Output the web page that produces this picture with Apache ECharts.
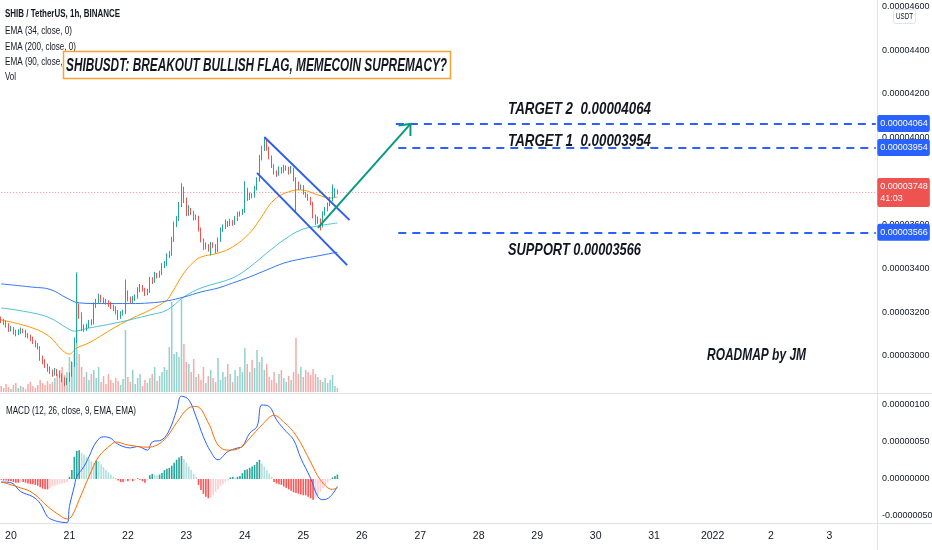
<!DOCTYPE html>
<html>
<head>
<meta charset="utf-8">
<script src="https://cdn.jsdelivr.net/npm/echarts@6.0.0/dist/echarts.min.js"></script>
<style>
html,body{margin:0;padding:0;background:#fff}
#main{width:932px;height:550px}
</style>
</head>
<body>
<div id="main"></div>
<script>
// prices are in units of 1e-8 USDT (3748 = 0.00003748), one candle per hour from Dec 19 20:00
var opens = [
 3165,3160,3150,3140,3120,3125,3108,3100,3110,3118,
 3112,3095,3090,3078,3065,3050,3040,2990,2975,2955,
 2940,2930,2918,2930,2920,2912,2895,2875,2890,2915,
 2960,3070,3215,3190,3130,3125,3135,3155,3150,3230,
 3245,3270,3255,3250,3245,3235,3225,3215,3200,3180,
 3195,3200,3290,3260,3250,3260,3270,3300,3315,3305,
 3285,3295,3350,3340,3370,3365,3375,3410,3420,3455,
 3465,3530,3600,3625,3690,3770,3715,3650,3665,3655,
 3630,3635,3580,3530,3495,3505,3490,3510,3505,3480,
 3530,3575,3590,3610,3600,3615,3605,3625,3645,3650,
 3660,3760,3720,3735,3730,3765,3805,3905,3945,3980,
 3950,3910,3870,3840,3830,3855,3845,3855,3860,3840,
 3855,3810,3790,3770,3775,3745,3735,3720,3700,3640,
 3615,3625,3595,3650,3670,3690,3715,3730,3755];
var closes = [
 3160,3150,3140,3120,3125,3108,3100,3110,3118,3112,
 3095,3090,3078,3065,3050,3040,2990,2975,2955,2940,
 2930,2918,2930,2920,2912,2895,2875,2890,2915,2960,
 3070,3215,3190,3130,3125,3135,3155,3150,3230,3245,
 3270,3255,3250,3245,3235,3225,3215,3200,3180,3195,
 3200,3290,3260,3250,3260,3270,3300,3315,3305,3285,
 3295,3350,3340,3370,3365,3375,3410,3420,3455,3465,
 3530,3600,3625,3690,3770,3715,3650,3665,3655,3630,
 3635,3580,3530,3495,3505,3490,3510,3505,3480,3530,
 3575,3590,3610,3600,3615,3605,3625,3645,3650,3660,
 3760,3720,3735,3730,3765,3805,3905,3945,3980,3950,
 3910,3870,3840,3830,3855,3845,3855,3860,3840,3855,
 3810,3790,3770,3775,3745,3735,3720,3700,3640,3615,
 3625,3595,3650,3670,3690,3715,3730,3755,3748];
var highs = [
 3180,3170,3162,3150,3138,3132,3120,3122,3130,3125,
 3120,3105,3098,3088,3072,3060,3045,3002,2985,2965,
 2952,2938,2945,2940,2932,2920,2902,2900,2925,2975,
 3085,3380,3240,3200,3145,3148,3165,3168,3245,3262,
 3285,3280,3268,3262,3255,3248,3235,3228,3210,3205,
 3212,3350,3300,3272,3275,3282,3315,3330,3325,3312,
 3308,3362,3360,3385,3380,3390,3425,3435,3470,3480,
 3545,3615,3640,3705,3790,3775,3725,3690,3678,3665,
 3648,3642,3588,3538,3520,3512,3522,3520,3512,3542,
 3588,3602,3625,3618,3628,3622,3640,3660,3662,3672,
 3800,3770,3748,3745,3778,3818,3920,3962,4000,3990,
 3958,3918,3878,3850,3868,3865,3875,3872,3866,3870,
 3862,3818,3798,3785,3782,3752,3742,3728,3706,3648,
 3638,3630,3662,3682,3702,3728,3785,3768,3762];
var lows = [
 3150,3142,3130,3110,3112,3098,3090,3095,3102,3104,
 3085,3080,3068,3055,3040,3030,2978,2962,2945,2928,
 2918,2905,2910,2908,2900,2880,2862,2868,2882,2905,
 2950,3060,3170,3115,3110,3115,3128,3140,3145,3220,
 3238,3245,3240,3235,3225,3215,3205,3190,3165,3170,
 3185,3192,3250,3240,3242,3252,3262,3292,3295,3275,
 3278,3288,3330,3335,3355,3358,3370,3402,3412,3448,
 3458,3522,3590,3618,3682,3700,3640,3642,3645,3620,
 3622,3570,3520,3485,3488,3478,3460,3495,3470,3475,
 3522,3568,3582,3590,3595,3596,3600,3618,3638,3645,
 3655,3710,3714,3722,3725,3758,3798,3895,3938,3940,
 3900,3860,3830,3820,3825,3835,3838,3848,3830,3835,
 3800,3660,3760,3762,3738,3725,3710,3690,3630,3600,
 3605,3575,3588,3642,3662,3685,3708,3725,3740];
// relative volume per candle
var volumes = [
 6,4,8,5,3,7,9,4,6,5,
 3,8,10,6,4,7,12,9,7,11,
 8,10,14,18,22,25,17,20,35,30,
 38,120,38,25,15,20,12,18,22,14,
 25,10,16,8,18,12,9,14,11,7,
 13,62,15,10,22,8,14,18,6,12,
 9,14,18,25,11,16,20,25,22,45,
 90,38,40,35,92,48,30,28,20,33,
 15,18,12,25,9,16,22,14,10,34,
 12,20,15,28,18,10,22,16,25,20,
 44,28,20,32,24,42,30,35,22,28,
 15,12,20,9,18,22,14,10,16,12,
 20,54,18,25,15,22,20,17,23,18,
 15,12,10,14,9,12,17,6,4];
// EMA curves: [candle index, price]
var ema34Pts = [[0,3165],[13,3128],[20,3087],[25,3027],[28,3009],[31,3037],[36,3060],[47,3133],[54,3174],[61,3210],[68,3256],[70,3288],[75,3380],[79,3430],[82,3453],[89,3471],[95,3499],[102,3563],[106,3622],[112,3714],[119,3755],[123,3760],[130,3737],[135,3723],[138,3728]];
var ema90Pts = [[0,3220],[13,3197],[20,3174],[27,3128],[30,3114],[36,3128],[47,3151],[61,3188],[68,3210],[75,3270],[82,3311],[95,3357],[102,3407],[109,3471],[116,3531],[123,3577],[130,3595],[138,3609]];
var ema200Pts = [[0,3330],[13,3315],[20,3305],[27,3265],[32,3243],[41,3240],[53,3240],[61,3243],[68,3252],[75,3270],[82,3293],[89,3311],[95,3334],[102,3362],[109,3394],[116,3425],[123,3444],[130,3458],[136,3471],[138,3475]];
// MACD (units of 1e-8)
var macdPts = [[0,-4],[4,-5],[8,-17],[13,-24],[16,-33],[19,-51],[21,-55],[24,-58],[27,-59],[28,-37],[30,-10],[31,3],[34,17],[36,30],[39,50],[42,57],[45,55],[47,49],[50,44],[53,42],[56,44],[60,39],[62,50],[66,53],[69,66],[72,93],[74,112],[77,107],[80,84],[83,57],[86,37],[89,26],[93,37],[97,42],[99,44],[102,62],[105,71],[107,100],[110,98],[113,80],[117,64],[120,53],[123,28],[127,1],[130,-24],[132,-28],[135,-24],[138,-10]];
var signalPts = [[0,-4],[8,-12],[13,-19],[19,-37],[24,-49],[27,-54],[29,-50],[32,-28],[36,3],[40,30],[45,46],[47,50],[52,46],[60,43],[64,46],[68,57],[72,76],[77,96],[80,98],[85,76],[89,46],[93,39],[98,42],[102,55],[107,73],[112,86],[116,77],[121,59],[127,23],[131,-1],[136,-14],[138,-12]];
var histVals = [
 -1,-2,-2,-3,-3,-4,-5,-5,-4,-4,
 -5,-6,-7,-7,-8,-9,-11,-13,-14,-14,
 -12,-10,-9,-8,-7,-6,-5,-4,3,12,
 30,38,39,35,33,30,27,24,22,25,
 24,20,16,12,9,6,3,1,-2,-4,
 -4,-3,-3,-2,-3,-2,1,-1,-3,-5,
 -2,5,7,6,5,6,8,12,14,15,
 18,22,26,29,31,27,22,17,12,7,
 3,-8,-15,-20,-24,-26,-25,-22,-18,-14,
 -10,-7,-4,-2,2,3,2,3,4,8,
 12,13,15,17,19,23,26,21,17,12,
 7,3,-4,-6,-7,-8,-10,-12,-14,-16,
 -18,-19,-20,-21,-22,-22,-24,-26,-28,-26,
 -22,-17,-12,-8,-5,-2,2,4,6];
var dayLabels = ['20','21','22','23','24','25','26','27','28','29','30','31','2022','2','3'];
var target2 = 4064, target1 = 3954, support = 3566, lastPrice = 3748;
var countdown = '41:03';
// drawings: [candle index, price]
var flagUpper = [[108,4002],[143,3622]];
var flagLower = [[105,3838],[142,3416]];
var arrowLine = [[130,3586],[168,4062]];

var hours = [];
for (var h = -4; h < 356; h++) hours.push(String(h));

var AXF = "'Liberation Sans',Arial,sans-serif";
var TXT = "'Liberation Sans',Arial,sans-serif";
function fmtPrice(v){ return (v * 1e-8).toFixed(8); }

var candles = closes.map(function(c, i){ return [opens[i], c, lows[i], highs[i]]; });

function tag(bg, text){
  return {show:true, position:'end', distance:1.5, formatter:text, color:'#fff', backgroundColor:bg,
    padding:[3,2,2,3], borderRadius:2, fontSize:9, fontFamily:AXF, lineHeight:12, align:'left'};
}
var dashStyle = {color:'#2962ff', type:[8,6], width:2};
var flagStyle = {color:'#2f5ee8', type:'solid', width:2};

var chart = echarts.init(document.getElementById('main'));
var option = {
  animation:false,
  backgroundColor:'#fff',
  grid:[
    {left:0, right:55, top:6.4, height:393.3, outerBoundsMode:'none'},
    {left:0, right:55, top:368, height:185, outerBoundsMode:'none'},
    {left:0, right:55, top:272, height:120, outerBoundsMode:'none'}
  ],
  xAxis:[
    {type:'category', gridIndex:0, data:hours, show:false},
    {type:'category', gridIndex:1, data:hours, offset:-31,
      axisLine:{show:false}, axisTick:{show:false}, splitLine:{show:false},
      axisLabel:{interval:function(i, v){ return (+v) % 24 === 0; },
        formatter:function(v){ return dayLabels[(+v) / 24]; },
        color:'#131722', fontSize:10.5, fontFamily:AXF, margin:9}},
    {type:'category', gridIndex:2, data:hours, show:false}
  ],
  yAxis:[
    {type:'value', gridIndex:0, position:'right', min:2800, max:4600, interval:200,
      splitLine:{show:false}, axisLine:{show:false}, axisTick:{show:false},
      axisLabel:{formatter:fmtPrice, showMinLabel:false, color:'#131722', fontSize:9, fontFamily:AXF, margin:5}},
    {type:'value', gridIndex:1, position:'right', min:-100, max:150, interval:50,
      splitLine:{show:false}, axisLine:{show:false}, axisTick:{show:false},
      axisLabel:{formatter:fmtPrice, showMinLabel:false, showMaxLabel:false, color:'#131722', fontSize:9, fontFamily:AXF, margin:5}},
    {type:'value', gridIndex:2, min:0, max:120, show:false}
  ],
  series:[
    {type:'candlestick', xAxisIndex:0, yAxisIndex:0, data:candles, barWidth:1.3, z:4,
      itemStyle:{color:'#26a69a', color0:'#ef5350', borderColor:'#26a69a', borderColor0:'#ef5350', borderWidth:1},
      markLine:{silent:true, symbol:['none','none'], animation:false, z:6,
        data:[
          [{coord:[0,lastPrice], lineStyle:{color:'rgba(242,54,69,0.55)', type:[1,2], width:1},
            label:tag('#ef5350', fmtPrice(lastPrice) + '\n' + countdown)}, {coord:[359,lastPrice]}],
          [{coord:[162,target2], lineStyle:dashStyle, label:tag('#2962ff', fmtPrice(target2))}, {coord:[359,target2]}],
          [{coord:[163,target1], lineStyle:dashStyle, label:tag('#2962ff', fmtPrice(target1))}, {coord:[359,target1]}],
          [{coord:[163,support], lineStyle:dashStyle, label:tag('#2962ff', fmtPrice(support))}, {coord:[359,support]}],
          [{coord:flagUpper[0], lineStyle:flagStyle, label:{show:false}}, {coord:flagUpper[1]}],
          [{coord:flagLower[0], lineStyle:flagStyle, label:{show:false}}, {coord:flagLower[1]}],
          [{coord:arrowLine[0], lineStyle:{color:'#089981', type:'solid', width:2}, label:{show:false}}, {coord:arrowLine[1]}]
        ]}},
    {type:'line', xAxisIndex:0, yAxisIndex:0, data:ema34Pts, smooth:0.4, showSymbol:false, z:3,
      lineStyle:{color:'#ff9800', width:1}},
    {type:'line', xAxisIndex:0, yAxisIndex:0, data:ema90Pts, smooth:0.4, showSymbol:false, z:3,
      lineStyle:{color:'#4cc2d6', width:1}},
    {type:'line', xAxisIndex:0, yAxisIndex:0, data:ema200Pts, smooth:0.4, showSymbol:false, z:3,
      lineStyle:{color:'#3179f5', width:1}},
    {type:'bar', xAxisIndex:2, yAxisIndex:2, data:volumes, barWidth:1.5, z:1,
      itemStyle:{color:function(p){ return closes[p.dataIndex] >= opens[p.dataIndex] ? 'rgba(38,166,154,0.5)' : 'rgba(239,83,80,0.5)'; }}},
    {type:'bar', xAxisIndex:1, yAxisIndex:1, data:histVals, barWidth:1.6, z:2,
      itemStyle:{color:function(p){
        var v = histVals[p.dataIndex], prev = p.dataIndex > 0 ? histVals[p.dataIndex - 1] : v;
        if (v >= 0) return v >= prev ? '#26a69a' : '#b2dfdb';
        return v <= prev ? '#ff5252' : '#ffcdd2';
      }}},
    {type:'line', xAxisIndex:1, yAxisIndex:1, data:macdPts, smooth:0.4, showSymbol:false, z:3,
      lineStyle:{color:'#2962ff', width:1}},
    {type:'line', xAxisIndex:1, yAxisIndex:1, data:signalPts, smooth:0.4, showSymbol:false, z:3,
      lineStyle:{color:'#ff6d00', width:1}}
  ]
};
chart.setOption(option);

// text helpers: squeeze text to the measured width of the reference
var mctx = document.createElement('canvas').getContext('2d');
function fitText(text, x, y, width, size, italic, bold, z){
  var font = (italic ? 'italic ' : '') + (bold ? 'bold ' : '') + size + 'px ' + TXT;
  mctx.font = font;
  var w = mctx.measureText(text).width;
  return {type:'text', x:x, y:y, scaleX:width / w, z:z || 20,
    style:{text:text, fill:'#131722', fontSize:size, fontFamily:TXT,
      fontStyle:italic ? 'italic' : 'normal', fontWeight:bold ? 'bold' : 'normal',
      align:'left', verticalAlign:'middle'}};
}
function px(pt){ return chart.convertToPixel({gridIndex:0}, pt); }

var a0 = px(arrowLine[0]), a1 = px(arrowLine[1]);
var ang = Math.atan2(a1[1] - a0[1], a1[0] - a0[0]);
var headLen = 12, spread = 0.72;
var head = [
  [a1[0] - headLen * Math.cos(ang - spread), a1[1] - headLen * Math.sin(ang - spread)],
  [a1[0], a1[1]],
  [a1[0] - headLen * Math.cos(ang + spread), a1[1] - headLen * Math.sin(ang + spread)]
];
var yT2 = px([0,target2])[1], yT1 = px([0,target1])[1], ySup = px([0,support])[1];

var graphics = [
  {type:'line', shape:{x1:877.5, y1:0, x2:877.5, y2:550}, style:{stroke:'#e0e3eb', lineWidth:1}, z:1},
  {type:'line', shape:{x1:0, y1:393.5, x2:932, y2:393.5}, style:{stroke:'#e0e3eb', lineWidth:1}, z:1},
  {type:'line', shape:{x1:0, y1:523.5, x2:932, y2:523.5}, style:{stroke:'#e0e3eb', lineWidth:1}, z:1},
  {type:'polyline', shape:{points:head}, style:{stroke:'#089981', lineWidth:2, fill:null}, z:10},
  fitText('SHIB / TetherUS, 1h, BINANCE', 5, 14, 115, 11, false, true),
  fitText('EMA (34, close, 0)', 5, 30.5, 67, 11),
  fitText('EMA (200, close, 0)', 5, 46.5, 71, 11),
  fitText('EMA (90, close, 0)', 5, 62, 67, 11),
  fitText('Vol', 5, 77, 11, 11),
  fitText('MACD (12, 26, close, 9, EMA, EMA)', 6, 411, 130, 11),
  {type:'rect', shape:{x:63.5, y:51.5, width:387, height:27}, style:{fill:'#fff', stroke:'#f5a332', lineWidth:1.5}, z:30},
  fitText('SHIBUSDT: BREAKOUT BULLISH FLAG, MEMECOIN SUPREMACY?', 66, 66, 381, 18, true, true, 31),
  fitText('TARGET 2  0.00004064', 508, yT2 - 14.5, 143, 17, true, true),
  fitText('TARGET 1  0.00003954', 508, yT1 - 6.5, 143, 17, true, true),
  fitText('SUPPORT 0.00003566', 508, ySup + 18, 133, 17, true, true),
  fitText('ROADMAP by JM', 707, 355.5, 99, 17, true, true),
  {type:'rect', shape:{x:893.5, y:9.5, width:22, height:14, r:2}, style:{fill:'#fff', stroke:'#e0e3eb', lineWidth:1}, z:30},
  fitText('USDT', 896, 16.5, 17, 9, false, false, 31)
];
chart.setOption({graphic:graphics});
</script>
</body>
</html>
